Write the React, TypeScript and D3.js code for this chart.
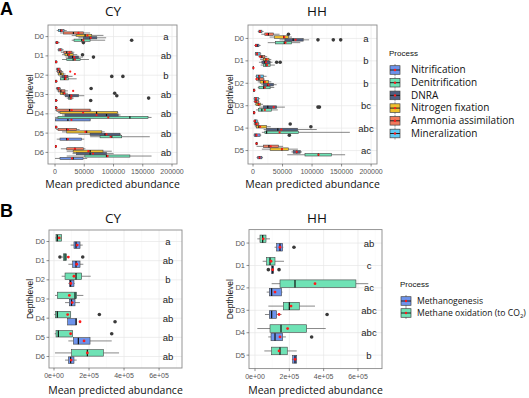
import React from "react";
import * as d3 from "d3";

// ---- categories ----
const depthsCY = ["D0", "D1", "D2", "D3", "D4", "D5", "D6"];
const depthsHH = ["D0", "D1", "D2", "D3", "D4", "D5"];
const nProcesses = ["Nitrification", "Denitrification", "DNRA", "Nitrogen fixation", "Ammonia assimilation", "Mineralization"];
const nColors = ["#6d93ec", "#6fe2b5", "#4f5f80", "#efc02c", "#f07a5c", "#5ec9f3"];
const cProcesses = ["Methanogenesis", "Methane oxidation (to CO"];
const cColors = ["#6d93ec", "#6fe2b5"];

const ticksA = [0, 50000, 100000, 150000, 200000];
const tickLabelsA = ["0", "50000", "100000", "150000", "200000"];
const ticksB = [0, 200000, 400000, 600000];
const tickLabelsB = ["0e+00", "2e+05", "4e+05", "6e+05"];

const lettersA_CY = ["a", "ab", "b", "ab", "ab", "ab", "ab"];
const lettersA_HH = ["a", "b", "b", "bc", "abc", "ac"];
const lettersB_CY = ["a", "ab", "b", "ab", "ab", "ab", "ab"];
const lettersB_HH = ["ab", "c", "ac", "abc", "abc", "b"];

// box stats per depth: [lower whisker, q1, median, q3, upper whisker, mean]
type Stat = number[];

// ---- A / CY ----
const cyNitrification: Stat[] = [
  [0, 1500, 3000, 5000, 8000, 3500], [0, 500, 1500, 3000, 5000, 2000], [0, 500, 1500, 3000, 5000, 2000],
  [0, 500, 1500, 3000, 5000, 2000], [0, 500, 22000, 60000, 61000, 28000], [3000, 8500, 20000, 45600, 50000, 22000],
  [0, 8500, 31000, 48000, 55000, 29000],
];
const cyDenitrification: Stat[] = [
  [28500, 32500, 45700, 60000, 85700, 48500], [12000, 20000, 31000, 43000, 58000, 34000], [8500, 9000, 16000, 23000, 37000, 18000],
  [20000, 23000, 26000, 29000, 32000, 27000], [0, 5000, 128000, 159000, 165000, 91000], [60000, 77000, 97000, 114000, 162000, 95000],
  [20000, 51000, 88000, 128000, 165000, 90000],
];
const cyDNRA: Stat[] = [
  [40000, 48500, 60000, 71400, 87400, 61000], [18000, 23000, 30000, 40000, 48000, 33000], [8000, 12000, 17000, 22000, 30000, 18000],
  [15000, 18000, 25000, 40000, 50000, 28000], [12000, 17000, 88000, 108000, 112000, 71000], [40000, 60000, 85500, 111000, 113000, 88000],
  [30000, 37000, 60000, 88000, 100000, 65000],
];
const cyNfix: Stat[] = [
  [28500, 36000, 51400, 62800, 82800, 55400], [12000, 17000, 22000, 31000, 38000, 24000], [4000, 6000, 10000, 14000, 18000, 34000],
  [8000, 9000, 14000, 17000, 22000, 16000], [5000, 8500, 71000, 107000, 108000, 48000], [12000, 20000, 54000, 80000, 85000, 52000],
  [20000, 31000, 60000, 82000, 97000, 57000],
];
const cyAmmonia: Stat[] = [
  [8600, 14300, 31400, 48500, 60000, 40000], [10000, 15000, 20000, 29000, 33000, 25000], [2000, 4000, 8000, 11000, 14000, 26000],
  [3000, 6000, 10000, 17000, 22000, 31000], [0, 2900, 25000, 60000, 62000, 28500], [2000, 5000, 20000, 37000, 42000, 22000],
  [10000, 20000, 34000, 48400, 52000, 34000],
];
const cyMineral: Stat[] = [
  [2900, 5700, 9700, 15400, 20000, 11400], [4000, 6000, 9000, 12000, 15000, 9000], [1500, 3000, 5000, 8500, 10000, 6000],
  [1500, 3000, 5000, 8500, 10000, 6000], [0, 500, 1500, 3000, 5000, 2000], [0, 500, 1500, 3000, 5000, 2000],
  [0, 500, 1000, 2000, 3000, 1500],
];
// outliers: [depth index, value]
const cyNitrificationOut = [[0, 48500], [3, 61000]];
const cyDenitrificationOut = [[0, 131000], [3, 160000]];
const cyDNRAOut = [[1, 65700], [2, 97000], [2, 116000], [3, 105600]];
const cyNfixOut = [[1, 47000], [3, 102000]];
const cyAmmoniaOut: number[][] = [];
const cyMineralOut = [[3, 61700]];

// ---- A / HH ----
const hhNitrification: Stat[] = [
  [2000, 4000, 7000, 10000, 13000, 5000], [0, 200, 500, 1000, 1500, 800], [0, 500, 1500, 3000, 4000, 2000],
  [0, 500, 1500, 3000, 4000, 2000], [1000, 2000, 5000, 12000, 14000, 6000], [6000, 8000, 11000, 15000, 17000, 11000],
];
const hhDenitrification: Stat[] = [
  [25000, 38000, 53000, 65500, 80000, 55000], [13000, 17500, 22000, 29000, 37000, 24000], [8000, 10000, 18000, 29000, 36000, 20000],
  [5000, 9000, 15000, 31500, 42000, 20000], [15000, 20000, 23000, 77000, 164000, 45000], [58000, 88000, 110700, 133000, 156000, 111000],
];
const hhDNRA: Stat[] = [
  [45000, 54000, 68000, 85000, 95000, 72000], [10000, 15000, 20000, 29000, 33000, 22000], [14000, 17500, 25000, 34500, 40000, 26000],
  [10000, 17500, 25000, 40000, 54000, 35000], [18000, 23000, 42000, 75500, 108000, 48000], [65000, 68000, 74000, 80000, 83000, 74000],
];
const hhNfix: Stat[] = [
  [28000, 36000, 52000, 60000, 66000, 53000], [12000, 17500, 22000, 27000, 31000, 23000], [8000, 12000, 18000, 26000, 31000, 20000],
  [3000, 5000, 9000, 13000, 17000, 10000], [3000, 6000, 10000, 23000, 30000, 12000], [15000, 29000, 49000, 60000, 76000, 49000],
];
const hhAmmonia: Stat[] = [
  [14000, 20000, 26000, 34500, 45000, 24000], [9000, 12000, 15000, 20000, 24000, 12000], [4000, 6000, 10000, 17500, 20000, 6000],
  [1000, 3000, 5000, 9000, 11000, 4000], [1000, 3000, 5000, 9000, 11000, 6000], [6000, 17500, 27000, 43000, 51000, 30000],
];
const hhMineral: Stat[] = [
  [8000, 10000, 12000, 15000, 18000, 12000], [3000, 4500, 7000, 12000, 14000, 7000], [4000, 6000, 10000, 17500, 23000, 11000],
  [1000, 2000, 5000, 9000, 12000, 5000], [0, 2000, 4000, 7000, 9000, 3000], [4000, 5000, 6000, 7000, 8000, 6000],
];
const hhNitrificationOut = [[4, 61500]];
const hhDenitrificationOut: number[][] = [];
const hhDNRAOut = [[0, 110000], [0, 136000], [0, 148500], [1, 40000], [1, 46000], [3, 110000], [3, 112500]];
const hhNfixOut = [[4, 98000]];
const hhAmmoniaOut = [[0, 60000], [4, 63000]];
const hhMineralOut: number[][] = [];

// ---- B / CY ----
const cyMethanogenesis: Stat[] = [
  [95000, 114000, 125700, 148600, 164000, 133000], [82000, 106700, 125700, 148600, 167600, 130000], [82000, 87600, 95000, 114000, 118000, 96000],
  [63000, 87600, 100000, 120000, 148000, 104000], [76000, 78000, 125700, 129500, 130000, 148600], [82000, 110500, 139000, 205700, 329600, 171500],
  [63000, 82000, 95000, 114000, 129500, 98000],
];
const cyMethaneOx: Stat[] = [
  [8000, 11400, 19000, 43800, 45000, 30000], [45000, 53000, 63000, 72000, 80000, 82000], [43800, 63000, 125700, 158000, 209500, 114000],
  [5700, 19000, 120000, 129500, 167600, 87600], [2000, 9500, 19000, 95000, 96000, 78000], [4000, 11400, 24800, 106700, 107000, 95000],
  [5700, 101000, 190500, 282000, 371500, 190500],
];
const cyMethanogenesisOut = [[4, 348600]];
const cyMethaneOxOut = [[1, 34000], [1, 164000], [4, 259000], [5, 329600]];

// ---- B / HH ----
const hhMethanogenesis: Stat[] = [
  [114000, 126000, 145600, 161000, 165000, 145600], [93000, 95000, 103000, 107000, 110000, 103000], [68000, 83500, 97000, 155000, 160000, 116500],
  [58000, 83500, 97000, 126000, 155000, 140000], [77000, 93200, 116500, 161000, 180000, 145600], [215000, 219500, 233000, 243000, 245000, 233000],
];
const hhMethaneOx: Stat[] = [
  [13600, 29000, 44700, 64000, 87400, 48000], [44700, 68000, 87400, 116500, 169000, 93200], [97000, 145600, 233000, 588000, 660000, 349600],
  [77700, 165000, 200000, 258000, 349500, 210000], [13600, 87400, 151500, 301000, 412000, 190000], [54400, 97000, 145600, 188000, 243000, 140000],
];
const hhMethanogenesisOut = [[0, 227000], [1, 77700], [1, 140000], [3, 420000], [4, 330000]];
const hhMethaneOxOut: number[][] = [];

const SANS = "'Liberation Sans', Arial, sans-serif";
const CAL = "'Open Sans', sans-serif";

interface Series { stats: Stat[]; out: number[][]; color: string }
interface PanelProps {
  left: number; right: number; top: number; bottom: number;
  domain: [number, number];
  ticks: number[]; tickLabels: string[];
  levels: string[]; series: Series[]; letters: string[]; letterX: number;
  title: string; titleX: number; titleY: number;
  xTitleY: number; yTitleX: number;
  meanR: number; tickLabelDy: number;
}

function BoxPanel(p: PanelProps) {
  const x = d3.scaleLinear().domain(p.domain).range([p.left, p.right]);
  const y = d3.scalePoint<string>().domain(p.levels).range([p.top, p.bottom]).padding(0.6);
  const step = y.step();
  const n = p.series.length;
  const slot = (step * 0.75) / n;
  const bh = slot * 0.9;
  const minor: number[] = [];
  const dt = p.ticks[1] - p.ticks[0];
  for (let v = p.ticks[0] - dt / 2; v <= p.domain[1]; v += dt) if (v >= p.domain[0]) minor.push(v);
  const cy = (p.top + p.bottom) / 2;
  return (
    <g>
      <rect x={p.left} y={p.top} width={p.right - p.left} height={p.bottom - p.top} fill="#fff" />
      {minor.map((v, i) => (
        <line key={"mn" + i} x1={x(v)} x2={x(v)} y1={p.top} y2={p.bottom} stroke="#f3f3f3" strokeWidth={0.4} />
      ))}
      {p.ticks.map((v, i) => (
        <line key={"mj" + i} x1={x(v)} x2={x(v)} y1={p.top} y2={p.bottom} stroke="#e6e6e6" strokeWidth={0.7} />
      ))}
      {p.levels.map((l) => (
        <line key={"h" + l} x1={p.left} x2={p.right} y1={y(l)} y2={y(l)} stroke="#e6e6e6" strokeWidth={0.7} />
      ))}
      {p.series.map((s, i) => {
        const off = ((n - 1) / 2 - i) * slot;
        return (
          <g key={"s" + i}>
            {s.stats.map((d, j) => {
              const yc = (y(p.levels[j]) as number) + off;
              return (
                <g key={j}>
                  <line x1={x(d[0])} x2={x(d[1])} y1={yc} y2={yc} stroke="#555" strokeWidth={0.7} />
                  <line x1={x(d[3])} x2={x(d[4])} y1={yc} y2={yc} stroke="#555" strokeWidth={0.7} />
                  <rect x={x(d[1])} y={yc - bh / 2} width={Math.max(0.5, x(d[3]) - x(d[1]))} height={bh}
                    fill={s.color} stroke="#444" strokeWidth={0.6} />
                  <line x1={x(d[2])} x2={x(d[2])} y1={yc - bh / 2} y2={yc + bh / 2} stroke="#111" strokeWidth={1.2} />
                  <circle cx={x(d[5])} cy={yc} r={p.meanR} fill="#ff1a1a" />
                </g>
              );
            })}
            {s.out.map((o, k) => (
              <circle key={"o" + k} cx={x(o[1])} cy={(y(p.levels[o[0]]) as number) + off} r={1.8} fill="#3a3a3a" />
            ))}
          </g>
        );
      })}
      {p.letters.map((t, j) => (
        <text key={"l" + j} x={p.letterX} y={(y(p.levels[j]) as number) + 3.5} textAnchor="middle"
          fontFamily={SANS} fontSize={9.5} fill="#222">{t}</text>
      ))}
      <rect x={p.left} y={p.top} width={p.right - p.left} height={p.bottom - p.top} fill="none" stroke="#8a8a8a" strokeWidth={0.9} />
      {p.levels.map((l) => (
        <g key={"yt" + l}>
          <line x1={p.left - 2.5} x2={p.left} y1={y(l)} y2={y(l)} stroke="#444" strokeWidth={0.6} />
          <text x={p.left - 4} y={(y(l) as number) + 2.5} textAnchor="end" fontFamily={SANS} fontSize={7.5} fill="#555">{l}</text>
        </g>
      ))}
      {p.ticks.map((v, i) => (
        <g key={"xt" + i}>
          <line x1={x(v)} x2={x(v)} y1={p.bottom} y2={p.bottom + 2.5} stroke="#444" strokeWidth={0.6} />
          <text x={x(v)} y={p.bottom + p.tickLabelDy} textAnchor="middle" fontFamily={SANS} fontSize={7} fill="#555">{p.tickLabels[i]}</text>
        </g>
      ))}
      <text x={p.titleX} y={p.titleY} textAnchor="middle" fontFamily={CAL} fontSize={13.5} fill="#111">{p.title}</text>
      <text x={(p.left + p.right) / 2} y={p.xTitleY} textAnchor="middle" fontFamily={CAL} fontSize={10.5} fill="#111">Mean predicted abundance</text>
      <text transform={`translate(${p.yTitleX},${cy}) rotate(-90)`} textAnchor="middle" fontFamily={SANS} fontSize={8.5} fill="#111">Depthlevel</text>
    </g>
  );
}

function Legend({ x, y, labels, colors, gap, sub }: { x: number; y: number; labels: string[]; colors: string[]; gap: number; sub?: boolean }) {
  return (
    <g>
      <text x={x} y={y} fontFamily={SANS} fontSize={8} fill="#111">Process</text>
      {labels.map((l, i) => {
        const yc = y + 14 + i * gap;
        return (
          <g key={l}>
            <line x1={x + 6} x2={x + 6} y1={yc - 6} y2={yc + 6} stroke="#555" strokeWidth={0.6} />
            <rect x={x + 1} y={yc - 4.3} width={10} height={8.6} fill={colors[i]} stroke="#444" strokeWidth={0.7} />
            <line x1={x + 1} x2={x + 11} y1={yc} y2={yc} stroke="#222" strokeWidth={1} />
            <circle cx={x + 6} cy={yc} r={1.2} fill="#ff1a1a" />
            <text x={x + (sub ? 17 : 22)} y={yc + 3.2} fontFamily={CAL} fontSize={sub ? 8.6 : 10} fill="#111">
              {l}
              {sub && i === 1 ? <><tspan fontSize={6} dy={2}>2</tspan><tspan dy={-2}>)</tspan></> : null}
            </text>
          </g>
        );
      })}
    </g>
  );
}

export default function App() {
  const nSeriesCY: Series[] = [
    { stats: cyNitrification, out: cyNitrificationOut, color: nColors[0] },
    { stats: cyDenitrification, out: cyDenitrificationOut, color: nColors[1] },
    { stats: cyDNRA, out: cyDNRAOut, color: nColors[2] },
    { stats: cyNfix, out: cyNfixOut, color: nColors[3] },
    { stats: cyAmmonia, out: cyAmmoniaOut, color: nColors[4] },
    { stats: cyMineral, out: cyMineralOut, color: nColors[5] },
  ];
  const nSeriesHH: Series[] = [
    { stats: hhNitrification, out: hhNitrificationOut, color: nColors[0] },
    { stats: hhDenitrification, out: hhDenitrificationOut, color: nColors[1] },
    { stats: hhDNRA, out: hhDNRAOut, color: nColors[2] },
    { stats: hhNfix, out: hhNfixOut, color: nColors[3] },
    { stats: hhAmmonia, out: hhAmmoniaOut, color: nColors[4] },
    { stats: hhMineral, out: hhMineralOut, color: nColors[5] },
  ];
  const cSeriesCY: Series[] = [
    { stats: cyMethanogenesis, out: cyMethanogenesisOut, color: cColors[0] },
    { stats: cyMethaneOx, out: cyMethaneOxOut, color: cColors[1] },
  ];
  const cSeriesHH: Series[] = [
    { stats: hhMethanogenesis, out: hhMethanogenesisOut, color: cColors[0] },
    { stats: hhMethaneOx, out: hhMethaneOxOut, color: cColors[1] },
  ];
  return (
    <svg width={529} height={398} style={{ position: "absolute", left: 0, top: 0, background: "#fff" }}>
      <rect width={529} height={398} fill="#fff" />
      <text x={0} y={15} fontFamily={SANS} fontWeight="bold" fontSize={18} fill="#000">A</text>
      <text x={0} y={217} fontFamily={SANS} fontWeight="bold" fontSize={18} fill="#000">B</text>
      <BoxPanel left={48} right={177} top={25} bottom={164} domain={[-12000, 208500]} ticks={ticksA} tickLabels={tickLabelsA}
        levels={depthsCY} series={nSeriesCY} letters={lettersA_CY} letterX={166} title="CY" titleX={113} titleY={16}
        xTitleY={188} yTitleX={33} meanR={1.1} tickLabelDy={10} />
      <BoxPanel left={248} right={377} top={25} bottom={164} domain={[-8500, 210000]} ticks={ticksA} tickLabels={tickLabelsA}
        levels={depthsHH} series={nSeriesHH} letters={lettersA_HH} letterX={366} title="HH" titleX={317} titleY={16}
        xTitleY={188} yTitleX={233} meanR={1.1} tickLabelDy={10} />
      <BoxPanel left={49} right={182} top={230} bottom={368} domain={[-28600, 731000]} ticks={ticksB} tickLabels={tickLabelsB}
        levels={depthsCY} series={cSeriesCY} letters={lettersB_CY} letterX={168} title="CY" titleX={113} titleY={223}
        xTitleY={394} yTitleX={33} meanR={1.4} tickLabelDy={10} />
      <BoxPanel left={249} right={382} top={229.6} bottom={368.6} domain={[-35000, 740000]} ticks={ticksB} tickLabels={tickLabelsB}
        levels={depthsHH} series={cSeriesHH} letters={lettersB_HH} letterX={369} title="HH" titleX={317} titleY={223}
        xTitleY={394} yTitleX={233} meanR={1.4} tickLabelDy={10} />
      <Legend x={389} y={56} labels={nProcesses} colors={nColors} gap={12.7} />
      <Legend x={400} y={287} labels={cProcesses} colors={cColors} gap={12} sub />
    </svg>
  );
}
